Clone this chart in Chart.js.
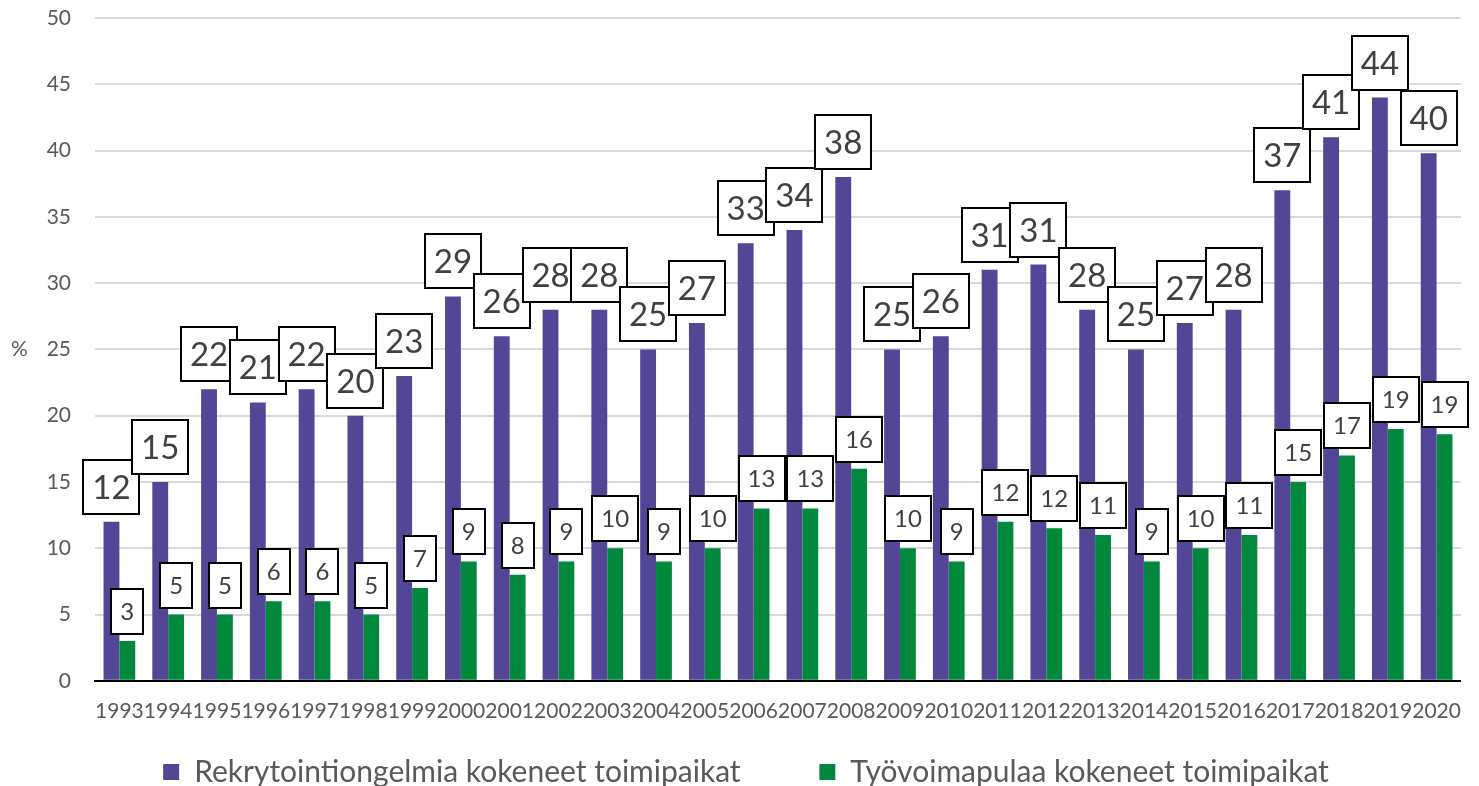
<!DOCTYPE html>
<html>
<head>
<meta charset="utf-8">
<script src="https://cdn.jsdelivr.net/npm/chart.js@4/dist/chart.umd.min.js"></script>
<style>
  html, body { margin: 0; padding: 0; background: #fff; }
  #wrap { width: 1479px; height: 786px; }
</style>
</head>
<body>
<div id="wrap"><canvas id="kaavio"></canvas></div>
<script>
// vuodet ja sarjat (%)
const vuodet = ['1993','1994','1995','1996','1997','1998','1999','2000','2001','2002',
  '2003','2004','2005','2006','2007','2008','2009','2010','2011','2012',
  '2013','2014','2015','2016','2017','2018','2019','2020'];
const rekrytointi = [12,15,22,21,22,20,23,29,26,28,28,25,27,33,34,38,25,26,31,31.4,28,25,27,28,37,41,44,39.8];
const tyovoimapula = [3,5,5,6,6,5,7,9,8,9,10,9,10,13,13,16,10,9,12,11.5,11,9,10,11,15,17,19,18.6];

const violetti = '#534697';
const vihrea = '#00893c';

// laatikoidut arvolaput (Excel-tyyli)
const laput = {
  id: 'laput',
  afterDatasetsDraw(chart) {
    const ctx = chart.ctx;
    chart.data.datasets.forEach((ds, i) => {
      const meta = chart.getDatasetMeta(i);
      const koko = i === 0 ? 33 : 24;
      const korkeus = i === 0 ? 54 : 45;
      const padX = 9;
      const rako = i === 0 ? 8 : 7;
      ctx.save();
      ctx.font = koko + 'px Lato';
      meta.data.forEach((bar, j) => {
        const txt = String(Math.round(ds.data[j]));
        const w = Math.round(ctx.measureText(txt).width + padX * 2);
        const x = Math.round(bar.x - w / 2);
        const y = Math.round(bar.y - rako - korkeus);
        ctx.fillStyle = '#fff';
        ctx.fillRect(x, y, w, korkeus);
        ctx.lineWidth = 2;
        ctx.strokeStyle = '#000';
        ctx.strokeRect(x, y, w, korkeus);
        ctx.fillStyle = '#404040';
        ctx.textAlign = 'center';
        ctx.textBaseline = 'middle';
        ctx.fillText(txt, bar.x, y + korkeus / 2 + 1);
      });
      ctx.restore();
    });
  }
};

// vaakasuora %-merkki y-akselin vasemmalle puolelle
const prosentti = {
  id: 'prosentti',
  afterDraw(chart) {
    const ctx = chart.ctx;
    const a = chart.chartArea;
    ctx.save();
    ctx.font = '21px Lato';
    ctx.fillStyle = '#595959';
    ctx.textAlign = 'left';
    ctx.textBaseline = 'middle';
    ctx.fillText('%', 11, (a.top + a.bottom) / 2);
    ctx.restore();
  }
};

new Chart(document.getElementById('kaavio'), {
  type: 'bar',
  data: {
    labels: vuodet,
    datasets: [
      { label: 'Rekrytointiongelmia kokeneet toimipaikat', data: rekrytointi, backgroundColor: violetti },
      { label: 'Työvoimapulaa kokeneet toimipaikat', data: tyovoimapula, backgroundColor: vihrea }
    ]
  },
  options: {
    responsive: true,
    maintainAspectRatio: false,
    animation: false,
    datasets: { bar: { categoryPercentage: 0.65, barPercentage: 1.0 } },
    layout: { padding: { left: 15, right: 2, top: 0, bottom: -11 } },
    scales: {
      x: {
        grid: { display: false, drawTicks: false },
        border: { color: '#000', width: 2 },
        ticks: { autoSkip: false, maxRotation: 0, color: '#595959', font: { family: 'Lato', size: 21 }, padding: 18 }
      },
      y: {
        min: 0, max: 50,
        afterFit(scale) {
          scale.width = 80;
          scale.paddingTop = 18;
          scale.paddingBottom = 13;
        },
        ticks: { stepSize: 5, color: '#595959', font: { family: 'Lato', size: 21 }, padding: 24 },
        grid: { color: '#d9d9d9', lineWidth: 2, drawTicks: false },
        border: { display: false }
      }
    },
    plugins: {
      legend: {
        position: 'bottom',
        labels: {
          boxWidth: 16, boxHeight: 16, padding: 15,
          color: '#595959', font: { family: 'Lato', size: 30 },
          generateLabels(chart) {
            const items = Chart.defaults.plugins.legend.labels.generateLabels(chart);
            items[0].text += '\u2003\u2003\u2002\u2009'; // lisää väliä kohteiden väliin
            return items;
          }
        }
      },
      tooltip: { enabled: false }
    }
  },
  plugins: [laput, prosentti]
});
</script>
</body>
</html>
